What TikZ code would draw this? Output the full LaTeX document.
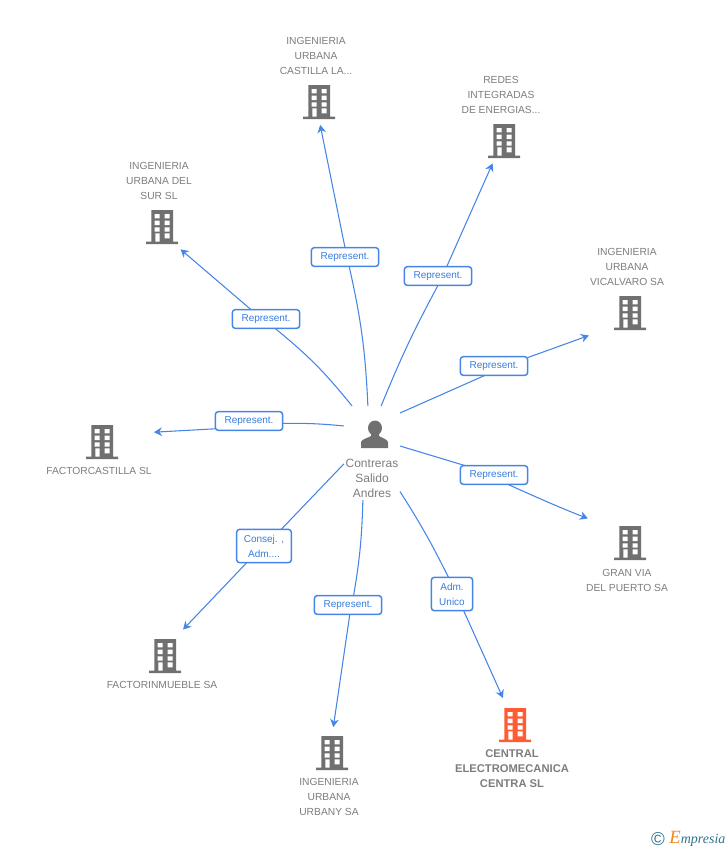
\documentclass[tikz,border=0pt]{standalone}
\usepackage{fontspec}
\setmainfont{Liberation Sans}
\newfontfamily\logofont{Liberation Serif}
\usetikzlibrary{arrows.meta}
\definecolor{node_gray}{RGB}{112,112,112}
\definecolor{node_orange}{RGB}{255,92,51}
\definecolor{text_gray}{RGB}{125,125,125}
\definecolor{edge_blue}{RGB}{70,133,232}
\definecolor{text_blue}{RGB}{55,125,225}
\definecolor{logo_teal}{RGB}{50,115,140}
\definecolor{logo_orange}{RGB}{240,135,30}
\newcommand\BuildingIcon[1]{%
  \begin{scope}[shift={(path picture bounding box.center)}]
    \fill[#1] (-10.7,-17) rectangle (11,15) (-16,14.5) rectangle (16,17);
    \fill[white] (-7.3,-13) rectangle (-2.3,-8.7) (2.7,-13) rectangle (7.7,-8.7)
      (-7.3,-6.3) rectangle (-2.3,-2) (2.7,-6.3) rectangle (7.7,-2)
      (-7.3,0.3) rectangle (-2.3,4.7) (2.7,0.3) rectangle (7.7,4.7)
      (-6.7,6.3) rectangle (-2.3,14.5) (2.7,6.3) rectangle (7.7,11.3);
  \end{scope}}
\newcommand\PersonIcon{%
  \begin{scope}[shift={(path picture bounding box.center)}]
    \fill[node_gray] (0,-6) ellipse [x radius=7,y radius=7.5];
    \fill[node_gray] (-14,14) -- (-14,8) .. controls (-13,5) and (-7,4) .. (-4,2) -- (-4,-2)
      -- (4,-2) -- (4,2) .. controls (7,4) and (12,5) .. (13,8) -- (13,14) -- cycle;
  \end{scope}}

\begin{document}
\begin{tikzpicture}[->,x=0.75pt,y=-0.75pt,color=edge_blue,line width=0.8pt,
    >={Stealth[length=6pt,width=6.5pt]}]
    \tikzstyle{caption}=[text=text_gray,align=center,inner sep=0pt,font=\fontsize{7.7}{11.25}\selectfont]
    \tikzstyle{captionown}=[style=caption,font=\fontsize{8.4}{11.25}\selectfont\bfseries]
    \tikzstyle{building}=[minimum width=24pt,minimum height=25.5pt,inner sep=0pt,outer sep=0pt]
    \tikzstyle{buildingnc}=[style=building,path picture={\BuildingIcon{node_gray}}]
    \tikzstyle{buildingor}=[style=building,path picture={\BuildingIcon{node_orange}}]
    \tikzstyle{person}=[minimum width=42pt,minimum height=70.5pt,inner sep=0pt,outer sep=0pt,
      text=text_gray,align=center,font=\fontsize{9}{11.25}\selectfont]
    \tikzstyle{personicon}=[minimum size=21pt,inner sep=0pt,outer sep=0pt,path picture={\PersonIcon}]
    \tikzstyle{relation}=[draw=edge_blue,line width=1.1pt,fill=white,rounded corners=2.2pt,
      text=text_blue,align=center,inner sep=0pt,outer sep=0pt,font=\fontsize{7.5}{11.25}\selectfont]
    \tikzstyle{repbox}=[style=relation,minimum width=50.5pt,minimum height=14pt]

    \useasboundingbox (0,0) rectangle (728,850);

    \node[person] (contreras) at (372,453) {\rule{0pt}{32.5pt}\\Contreras\\Salido\\Andres};
    \node[personicon] (contrerasicon) at (375,434) {};

    \node[buildingnc] (castilla) at (319,102) {};
    \node[buildingnc] (redes)    at (504,141) {};
    \node[buildingnc] (sur)      at (162,227) {};
    \node[buildingnc] (vicalvaro) at (630,313) {};
    \node[buildingnc] (factorc)  at (102,442) {};
    \node[buildingnc] (granvia)  at (630,543) {};
    \node[buildingnc] (factori)  at (165,656) {};
    \node[buildingnc] (urbany)   at (332,753) {};
    \node[buildingor] (central)  at (515,725) {};

    \node[caption] (castillatxt)  at (316,56)  {INGENIERIA\\URBANA\\CASTILLA LA...};
    \node[caption] (redestxt)     at (501,95)  {REDES\\INTEGRADAS\\DE ENERGIAS...};
    \node[caption] (surtxt)       at (159,181) {INGENIERIA\\URBANA DEL\\SUR SL};
    \node[caption] (vicalvarotxt) at (627,267) {INGENIERIA\\URBANA\\VICALVARO SA};
    \node[caption] (factorctxt)   at (99,471)  {FACTORCASTILLA SL};
    \node[caption] (granviatxt)   at (627,580) {GRAN VIA\\DEL PUERTO SA};
    \node[caption] (factoritxt)   at (162,685) {FACTORINMUEBLE SA};
    \node[caption] (urbanytxt)    at (329,797) {INGENIERIA\\URBANA\\URBANY SA};
    \node[captionown] (centraltxt) at (512,769) {CENTRAL\\ELECTROMECANICA\\CENTRA SL};

    \node[repbox] (relA) at (345,257) {Represent.};
    \node[repbox] (relB) at (438,276) {Represent.};
    \node[repbox] (relC) at (266,319) {Represent.};
    \node[repbox] (relD) at (494,366) {Represent.};
    \node[repbox] (relE) at (494,475) {Represent.};
    \node[repbox] (relF) at (249,421) {Represent.};
    \node[relation,minimum width=41pt,minimum height=25pt] (relG) at (264,546) {Consej. ,\\Adm....};
    \node[repbox] (relH) at (348,605) {Represent.};
    \node[relation,minimum width=31pt,minimum height=25pt] (relI) at (452,594) {Adm.\\Unico};

    \node[text=logo_teal,inner sep=0pt,font=\fontsize{14}{14}\selectfont] (logoc) at (658,839) {\textcopyright};
    \node[anchor=east,inner sep=0pt,text=logo_teal,font=\logofont\fontsize{10.5}{11}\selectfont\itshape] (logo) at (726,839)
      {{\color{logo_orange}\fontsize{14}{14}\selectfont E}mpresia};

    \path
     (contreras.95)  edge[-,bend right=5] (relA.-66)
     (relA.north)    edge[shorten >=4.5pt] (castilla.south)
     (contreras.79)  edge[-,bend left=3] (relB.south)
     (relB.47)       edge[shorten >=4.4pt] (redes.242)
     (contreras.113) edge[-,bend right=6] (relC.-46)
     (relC.148)      edge[shorten >=6.1pt] (sur.-54)
     (contreras.55)  edge[-] (relD.226)
     (relD.14)       edge[shorten >=20pt] (vicalvaro.220)
     (contreras.14)  edge[-] (relE.162)
     (relE.-34)      edge[bend right=2,shorten >=20.9pt] (granvia.137)
     (contreras.136) edge[-,bend right=3] (relF.-4)
     (relF.193)      edge[shorten >=27pt] (factorc.26)
     (contreras.201) edge[-] (relG.44)
     (relG.224)      edge[shorten >=9.8pt] (factori.62)
     (contreras.259) edge[-,bend left=4] (relH.59)
     (relH.-79)      edge[shorten >=6.75pt] (urbany.north)
     (contreras.-54) edge[-,bend left=3] (relI.102)
     (relI.-55)      edge[shorten >=8.2pt] (central.114);
\end{tikzpicture}
\end{document}
